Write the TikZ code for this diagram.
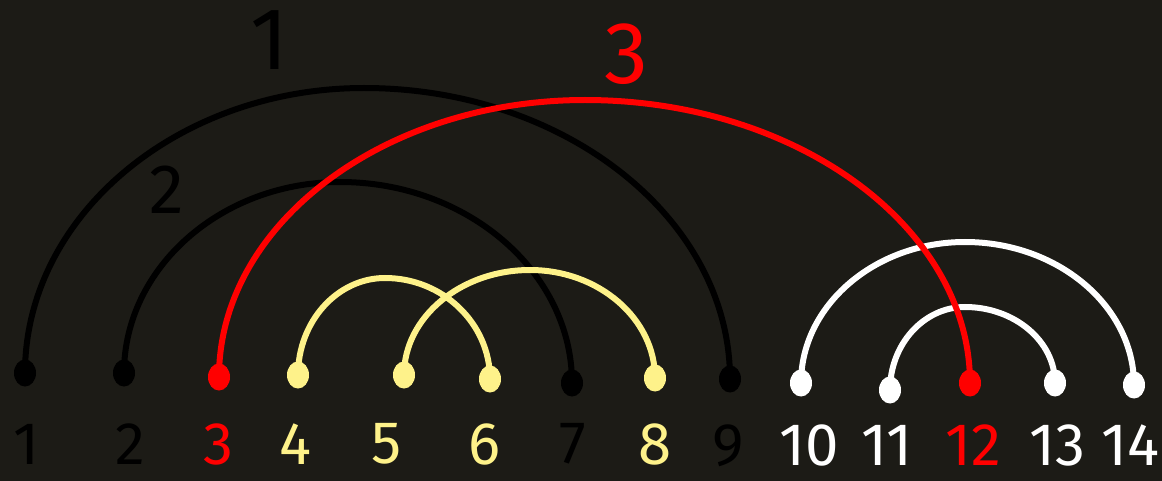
\documentclass[tikz,border=0pt]{standalone}
\usepackage{fontspec}
\setmainfont{Fira Sans}
\usetikzlibrary{calc,shapes.geometric}
\definecolor{bgc}{RGB}{28,27,22}
\definecolor{ylw}{RGB}{254,242,138}
\definecolor{rd}{RGB}{255,0,0}
\tikzset{
  arcline/.style={line width=6pt, line cap=round},
  dotnode/.style={ellipse, inner sep=0pt, minimum width=22pt, minimum height=27pt},
  numlabel/.style={font=\fontsize{60}{60}\selectfont, inner sep=0pt},
  toplabel/.style={font=\fontsize{88}{88}\selectfont, inner sep=0pt}
}
\newcommand{\qarc}[4]{% color, start, peak, end
  \draw[arcline, #1] (#2.center) .. controls ($(#2.center)!0.55!(#2.center|-#3)$) and ($(#3)!0.55!(#3-|#2.center)$) .. (#3)
    .. controls ($(#3)!0.55!(#3-|#4.center)$) and ($(#4.center)!0.55!(#4.center|-#3)$) .. (#4.center);}
\begin{document}
\begin{tikzpicture}[x=1pt,y={(0,-1pt)}]
\useasboundingbox (0,0) rectangle (1162,481);
\fill[bgc] (0,0) rectangle (1162,481);
% anchor coordinates for dots
\coordinate (c1) at (25,373);
\coordinate (c2) at (124,373);
\coordinate (c3) at (219,377);
\coordinate (c4) at (298,375);
\coordinate (c5) at (404,375);
\coordinate (c6) at (490,379);
\coordinate (c7) at (572,383);
\coordinate (c8) at (655,378);
\coordinate (c9) at (730,379);
\coordinate (c10) at (801,383);
\coordinate (c11) at (890,390);
\coordinate (c12) at (970,383);
\coordinate (c13) at (1055,383);
\coordinate (c14) at (1134,385);
% peaks
\coordinate (p1) at (364,88);
\coordinate (p2) at (340,182);
\coordinate (p3) at (585,100);
\coordinate (p4) at (385,278);
\coordinate (p5) at (530,270);
\coordinate (p6) at (965,242);
\coordinate (p7) at (965,307);
% arcs
\qarc{black}{c1}{p1}{c9}
\qarc{black}{c2}{p2}{c7}
\qarc{ylw}{c4}{p4}{c6}
\qarc{ylw}{c5}{p5}{c8}
\qarc{white}{c10}{p6}{c14}
\qarc{white}{c11}{p7}{c13}
\qarc{rd}{c3}{p3}{c12}
% dots
\node[dotnode, fill=black] (d1) at (c1) {};
\node[dotnode, fill=black] (d2) at (c2) {};
\node[dotnode, fill=rd] (d3) at (c3) {};
\node[dotnode, fill=ylw] (d4) at (c4) {};
\node[dotnode, fill=ylw] (d5) at (c5) {};
\node[dotnode, fill=ylw] (d6) at (c6) {};
\node[dotnode, fill=black] (d7) at (c7) {};
\node[dotnode, fill=ylw] (d8) at (c8) {};
\node[dotnode, fill=black] (d9) at (c9) {};
\node[dotnode, fill=white] (d10) at (c10) {};
\node[dotnode, fill=white] (d11) at (c11) {};
\node[dotnode, fill=rd] (d12) at (c12) {};
\node[dotnode, fill=white] (d13) at (c13) {};
\node[dotnode, fill=white] (d14) at (c14) {};
% bottom labels
\node[numlabel, text=black] (l1) at (26,444) {1};
\node[numlabel, text=black] (l2) at (130,444) {2};
\node[numlabel, text=rd] (l3) at (218,444) {3};
\node[numlabel, text=ylw] (l4) at (295,444) {4};
\node[numlabel, text=ylw] (l5) at (387,444) {5};
\node[numlabel, text=ylw] (l6) at (484,444) {6};
\node[numlabel, text=black] (l7) at (573,444) {7};
\node[numlabel, text=ylw] (l8) at (655,444) {8};
\node[numlabel, text=black] (l9) at (728,446) {9};
\node[numlabel, text=white] (l10) at (809,445) {10};
\node[numlabel, text=white] (l11) at (887,445) {11};
\node[numlabel, text=rd] (l12) at (973,445) {12};
\node[numlabel, text=white] (l13) at (1057,445) {13};
\node[numlabel, text=white, anchor=east] (l14) at (1160,445) {14};
% arc labels
\node[toplabel, text=black] (t1) at (270,40) {1};
\node[toplabel, text=black, font=\fontsize{70}{70}\selectfont] (t2) at (167,190) {2};
\node[toplabel, text=rd] (t3) at (626,54) {3};
\end{tikzpicture}
\end{document}
